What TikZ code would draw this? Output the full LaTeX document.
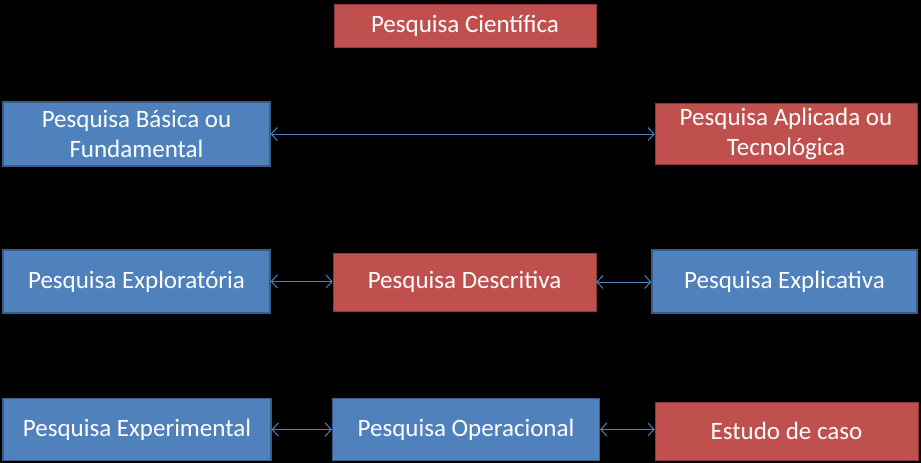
\documentclass[tikz,border=0pt]{standalone}
\usepackage{fontspec}
\setmainfont{Carlito}
\usetikzlibrary{arrows.meta}
\definecolor{bfill}{HTML}{4F81BD}
\definecolor{bline}{HTML}{385D8A}
\definecolor{rfill}{HTML}{C0504D}
\definecolor{rline}{HTML}{8C3836}
\tikzset{
  box/.style={draw, line width=1.2pt, text=white, font=\fontsize{25}{30}\selectfont, align=center, inner sep=0pt},
  bluebox/.style={box, fill=bfill, draw=bline},
  redbox/.style={box, fill=rfill, draw=rline, line width=0.6pt},
  link/.style={draw=bfill, line width=1pt, {Straight Barb[length=6pt,width=13pt]}-{Straight Barb[length=6pt,width=13pt]}}
}
\begin{document}
\begin{tikzpicture}[x=1pt,y=-1pt]
\fill[black] (0,0) rectangle (921,463);
\useasboundingbox (0,0) rectangle (921,463);
\node[redbox, minimum width=262pt, minimum height=43pt] (cient) at (465,25.5) {Pesquisa Científica};
\node[bluebox, minimum width=267pt, minimum height=64pt] (basica) at (136.5,134) {Pesquisa Básica ou\\Fundamental};
\node[redbox, minimum width=262pt, minimum height=61pt] (aplic) at (786,133.5) {Pesquisa Aplicada ou\\Tecnológica};
\node[bluebox, minimum width=267pt, minimum height=63pt] (explo) at (136.5,281.5) {Pesquisa Exploratória};
\node[redbox, minimum width=263pt, minimum height=58pt] (descr) at (464.5,282) {Pesquisa Descritiva};
\node[bluebox, minimum width=265pt, minimum height=63pt] (expli) at (784.5,281.5) {Pesquisa Explicativa};
\node[bluebox, minimum width=268pt, minimum height=62pt] (exper) at (137,429.5) {Pesquisa Experimental};
\node[bluebox, minimum width=267pt, minimum height=62pt] (oper) at (466,429.5) {Pesquisa Operacional};
\node[redbox, minimum width=263pt, minimum height=58pt] (estudo) at (786.5,431) {Estudo de caso};
\draw[link] (basica.east) -- (aplic.west |- basica.east);
\draw[link] (explo.east) -- (descr.west |- explo.east);
\draw[link] (descr.east) -- (expli.west |- descr.east);
\draw[link] (exper.east) -- (oper.west |- exper.east);
\draw[link] (oper.east) -- (estudo.west |- oper.east);
\end{tikzpicture}
\end{document}
